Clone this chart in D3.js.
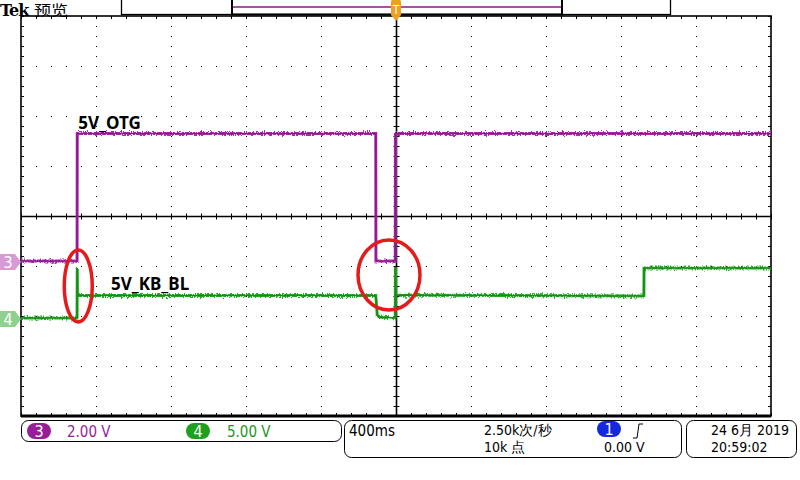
<!DOCTYPE html>
<html>
<head>
<meta charset="utf-8">
<script src="https://cdn.jsdelivr.net/npm/d3@7"></script>
<style>
  body { margin: 0; background: #fff; }
  svg { display: block; }
  text { font-family: "DejaVu Sans Condensed", "DejaVu Sans", sans-serif; }
</style>
</head>
<body>
<div id="chart"></div>
<script>
// scope settings: 400 ms/div, 10 div across, trigger at centre
const timeDomain = [-2.0, 2.0];           // seconds
const divDomain = [-4, 4];                // vertical divisions

// channel 3 (5V_OTG), 2.00 V/div
const ch3Position = -0.92;                // divisions from centre
const ch3VoltsPerDiv = 2.0;
const ch3Times = [-2.0, -1.701, -1.700, -0.108, -0.107, -0.004, -0.003, 2.0];
const ch3Volts = [0.04, 0.04, 5.14, 5.14, 0.04, 0.04, 5.14, 5.14];

// channel 4 (5V_KB_BL), 5.00 V/div
const ch4Position = -2.06;
const ch4VoltsPerDiv = 5.0;
const ch4Times = [-2.0, -1.701, -1.700, -1.699, -0.108, -0.100, -0.090, -0.004, -0.003, -0.001, 1.322, 1.323, 2.0];
const ch4Volts = [0.1, 0.1, 5.1, 2.35, 2.35, 0.4, 0.2, 0.1, 5.2, 2.4, 2.3, 5.1, 5.1];

const traceLabels = ["5V_OTG", "5V_KB_BL"];
const channelScales = ["2.00 V", "5.00 V"];
const timeBase = "400ms";
const sampleRate = "2.50k次/秒";
const recordLength = "10k 点";
const triggerLevel = "0.00 V";
const dateText = "24 6月 2019";
const timeText = "20:59:02";

const W = 800, H = 480;
const pLeft = 21, pRight = 771, pTop = 16, pBottom = 416;

const svg = d3.select('#chart').append('svg')
  .attr('width', W).attr('height', H);

const defs = svg.append('defs');
const f = defs.append('filter').attr('id', 'noise')
  .attr('x', '-2%').attr('y', '-20%').attr('width', '104%').attr('height', '140%');
f.append('feTurbulence').attr('type', 'fractalNoise').attr('baseFrequency', '0.9 0.4')
  .attr('numOctaves', 2).attr('seed', 3).attr('result', 'turb');
f.append('feColorMatrix').attr('in', 'turb').attr('type', 'matrix')
  .attr('values', '0 0 0 0 0.5  0 1 0 0 0  0 0 0 0 0  0 0 0 0 1').attr('result', 'map');
f.append('feDisplacementMap').attr('in', 'SourceGraphic').attr('in2', 'map')
  .attr('scale', 6).attr('xChannelSelector', 'R').attr('yChannelSelector', 'G');

const x = d3.scaleLinear().domain(timeDomain).range([pLeft, pRight]);
const y = d3.scaleLinear().domain(divDomain).range([pBottom, pTop]);

// ---- graticule ----
const grid = svg.append('g');
const vDivs = d3.range(timeDomain[0], timeDomain[1] + 0.001, 0.4);
const hDivs = d3.range(divDomain[0], divDomain[1] + 1, 1);

grid.selectAll('.vg').data(vDivs.filter(d => Math.abs(d) > 1e-6 && d > timeDomain[0] + 0.01 && d < timeDomain[1] - 0.01))
  .enter().append('line')
  .attr('x1', d => Math.round(x(d)) + 0.5).attr('x2', d => Math.round(x(d)) + 0.5)
  .attr('y1', pTop).attr('y2', pBottom)
  .attr('stroke', '#000').attr('stroke-width', 1)
  .attr('stroke-dasharray', '1 9');

grid.selectAll('.hg').data(hDivs.filter(d => d !== 0 && d > divDomain[0] && d < divDomain[1]))
  .enter().append('line')
  .attr('y1', d => y(d) + 0.5).attr('y2', d => y(d) + 0.5)
  .attr('x1', pLeft).attr('x2', pRight)
  .attr('stroke', '#000').attr('stroke-width', 1)
  .attr('stroke-dasharray', '1 14').attr('stroke-dashoffset', -15);

// centre crosshair
const cx = Math.round(x(0)) + 0.5, cy = y(0) + 0.5;
grid.append('line').attr('x1', cx).attr('x2', cx).attr('y1', pTop).attr('y2', pBottom)
  .attr('stroke', '#000').attr('stroke-width', 1.6);
grid.append('line').attr('x1', pLeft).attr('x2', pRight).attr('y1', cy).attr('y2', cy)
  .attr('stroke', '#000').attr('stroke-width', 1.4);

const minorX = d3.range(timeDomain[0], timeDomain[1] + 0.001, 0.08);
const minorY = d3.range(divDomain[0], divDomain[1] + 0.01, 0.2);
grid.selectAll('.cxt').data(minorX).enter().append('line')
  .attr('x1', d => Math.round(x(d)) + 0.5).attr('x2', d => Math.round(x(d)) + 0.5)
  .attr('y1', cy - 3).attr('y2', cy + 3).attr('stroke', '#000');
grid.selectAll('.cyt').data(minorY).enter().append('line')
  .attr('y1', d => Math.round(y(d)) + 0.5).attr('y2', d => Math.round(y(d)) + 0.5)
  .attr('x1', cx - 3).attr('x2', cx + 3).attr('stroke', '#000');
// frame ticks
grid.selectAll('.ft').data(minorX).enter().append('line')
  .attr('x1', d => Math.round(x(d)) + 0.5).attr('x2', d => Math.round(x(d)) + 0.5)
  .attr('y1', pTop).attr('y2', pTop + 3).attr('stroke', '#000');
grid.selectAll('.fb').data(minorX).enter().append('line')
  .attr('x1', d => Math.round(x(d)) + 0.5).attr('x2', d => Math.round(x(d)) + 0.5)
  .attr('y1', pBottom - 3).attr('y2', pBottom).attr('stroke', '#000');
grid.selectAll('.fl').data(minorY).enter().append('line')
  .attr('y1', d => Math.round(y(d)) + 0.5).attr('y2', d => Math.round(y(d)) + 0.5)
  .attr('x1', pLeft).attr('x2', pLeft + 3).attr('stroke', '#000');
grid.selectAll('.fr').data(minorY).enter().append('line')
  .attr('y1', d => Math.round(y(d)) + 0.5).attr('y2', d => Math.round(y(d)) + 0.5)
  .attr('x1', pRight - 3).attr('x2', pRight).attr('stroke', '#000');

grid.append('rect').attr('x', pLeft).attr('y', pTop).attr('width', pRight - pLeft).attr('height', pBottom - pTop)
  .attr('fill', 'none').attr('stroke', '#000').attr('stroke-width', 1.6);
grid.append('line').attr('x1', pLeft).attr('x2', pRight).attr('y1', pBottom).attr('y2', pBottom)
  .attr('stroke', '#000').attr('stroke-width', 3);

// ---- traces ----
function drawTrace(times, volts, pos, vdiv, color, dark) {
  const pts = times.map((t, i) => ({t: t, v: volts[i]}));
  const line = d3.line().x(d => x(d.t)).y(d => y(pos + d.v / vdiv));
  svg.append('path').datum(pts).attr('d', line)
    .attr('fill', 'none').attr('stroke', color).attr('stroke-width', 3)
    .attr('filter', 'url(#noise)');
  svg.append('path').datum(pts).attr('d', line)
    .attr('fill', 'none').attr('stroke', dark).attr('stroke-width', 1.6);
}
drawTrace(ch3Times, ch3Volts, ch3Position, ch3VoltsPerDiv, '#b02ab0', '#8a1a8a');
drawTrace(ch4Times, ch4Volts, ch4Position, ch4VoltsPerDiv, '#22b022', '#178a17');

// ground markers
function gndMarker(pos, label, fill) {
  const yy = y(pos);
  svg.append('path')
    .attr('d', `M0,${yy - 8} L15,${yy - 8} L21,${yy} L15,${yy + 8} L0,${yy + 8} Z`)
    .attr('fill', fill);
  svg.append('text').attr('x', 8).attr('y', yy + 6).attr('text-anchor', 'middle')
    .attr('font-size', 16).attr('fill', '#fff').text(label);
}
gndMarker(ch3Position, '3', '#d79ad7');
gndMarker(ch4Position, '4', '#8fcf8f');

// trace labels
svg.append('text').attr('x', x(-1.70) + 1).attr('y', 129)
  .style('font-family', '"Noto Sans", sans-serif').attr('font-weight', 'bold').attr('font-size', 17)
  .text(traceLabels[0]);
svg.append('text').attr('x', 111).attr('y', 290)
  .style('font-family', '"Noto Sans", sans-serif').attr('font-weight', 'bold').attr('font-size', 17)
  .text(traceLabels[1]);

// red ellipses (annotations)
svg.append('ellipse').attr('cx', x(-1.70) + 1).attr('cy', 286).attr('rx', 14).attr('ry', 36)
  .attr('fill', 'none').attr('stroke', '#e41b1b').attr('stroke-width', 3.5);
svg.append('ellipse').attr('cx', 389).attr('cy', 275).attr('rx', 31).attr('ry', 35)
  .attr('fill', 'none').attr('stroke', '#e41b1b').attr('stroke-width', 3.5);

// ---- top bar ----
svg.append('text').attr('x', 0).attr('y', 16)
  .style('font-family', '"DejaVu Serif", serif').attr('font-weight', 'bold').attr('font-size', 16)
  .attr('letter-spacing', -1).text('Tek');
svg.append('text').attr('x', 34).attr('y', 15)
  .style('font-family', '"Noto Sans CJK SC", sans-serif').attr('font-size', 14)
  .attr('textLength', 34).attr('lengthAdjust', 'spacingAndGlyphs').text('预览');
svg.append('rect').attr('x', 121.5).attr('y', -1).attr('width', 549).attr('height', 15.5)
  .attr('fill', 'none').attr('stroke', '#000').attr('stroke-width', 1.3);
svg.append('rect').attr('x', 232).attr('y', -1).attr('width', 330).attr('height', 15.5)
  .attr('fill', 'none').attr('stroke', '#000').attr('stroke-width', 2);
svg.append('line').attr('x1', 233).attr('x2', 561).attr('y1', 7).attr('y2', 7)
  .attr('stroke', '#8a1a8a').attr('stroke-width', 1.5);
// trigger position marker
const tx = x(0);
svg.append('path')
  .attr('d', `M${tx - 4},0 L${tx + 4},0 Q${tx + 5},0 ${tx + 5},2 L${tx + 5},15 L${tx},21 L${tx - 5},15 L${tx - 5},2 Q${tx - 5},0 ${tx - 4},0 Z`)
  .attr('fill', '#f0a020');
svg.append('text').attr('x', tx).attr('y', 14).attr('text-anchor', 'middle')
  .attr('font-size', 12).attr('fill', '#fff').text('T');

// ---- bottom readouts ----
const info = svg.append('g').attr('font-size', 14);
info.append('rect').attr('x', 21.5).attr('y', 420.5).attr('width', 320).attr('height', 21)
  .attr('rx', 7).attr('fill', 'none').attr('stroke', '#000');
info.append('rect').attr('x', 344.5).attr('y', 420.5).attr('width', 337).attr('height', 37)
  .attr('rx', 7).attr('fill', 'none').attr('stroke', '#000');
info.append('rect').attr('x', 686.5).attr('y', 420.5).attr('width', 110).attr('height', 37)
  .attr('rx', 7).attr('fill', 'none').attr('stroke', '#000');

function badge(cxp, cyp, label, fill) {
  info.append('rect').attr('x', cxp - 12).attr('y', cyp - 8).attr('width', 24).attr('height', 16)
    .attr('rx', 8).attr('fill', fill);
  info.append('text').attr('x', cxp).attr('y', cyp + 6).attr('text-anchor', 'middle')
    .attr('fill', '#fff').attr('font-size', 16).text(label);
}
badge(39, 431, '3', '#961e96');
info.append('text').attr('x', 67).attr('y', 437).attr('font-size', 15).attr('fill', '#961e96').text(channelScales[0]);
badge(198, 431, '4', '#1ea01e');
info.append('text').attr('x', 227).attr('y', 437).attr('font-size', 15).attr('fill', '#1e961e').text(channelScales[1]);

info.append('text').attr('x', 349).attr('y', 436).attr('font-size', 15).text(timeBase);
info.append('text').attr('x', 484).attr('y', 435).text(sampleRate);
info.append('text').attr('x', 484).attr('y', 452).text(recordLength);
badge(609, 429, '1', '#1428e0');
info.append('path').attr('d', 'M633,438 L637,438 L639,424 L643,424')
  .attr('fill', 'none').attr('stroke', '#000').attr('stroke-width', 1);
info.append('text').attr('x', 604).attr('y', 452).text(triggerLevel);
info.append('text').attr('x', 711).attr('y', 435).text(dateText);
info.append('text').attr('x', 711).attr('y', 452).text(timeText);
</script>
</body>
</html>
